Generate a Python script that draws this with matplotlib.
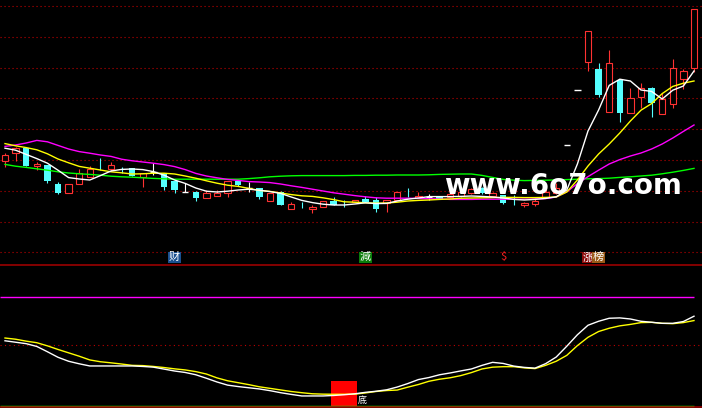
import matplotlib.pyplot as plt
import numpy as np
from matplotlib.lines import Line2D

# 日K线数据（价格从图上估读）
opens = [5.47, 5.84, 6.09, 5.20, 5.25, 4.29, 3.84, 4.29, 4.67, 5.35,
         5.05, 5.05, 5.09, 4.67, 4.92, 4.84, 4.47, 3.92, 3.92, 3.59,
         3.70, 3.84, 4.47, 4.10, 4.09, 3.47, 3.92, 3.04, 3.22, 3.04,
         3.14, 3.47, 3.37, 3.39, 3.55, 3.50, 3.34, 3.50, 3.87, 3.59,
         3.67, 3.67, 3.65, 3.70, 3.85, 4.10, 3.70, 3.75, 3.39, 3.25,
         3.29, 3.67, 3.84, 6.25, 9.00, 10.42, 10.05, 7.92, 9.50, 7.84,
         8.67, 9.09, 7.79, 8.29, 9.54, 10.09]
closes = [5.75, 6.09, 5.22, 5.30, 4.47, 3.87, 4.29, 4.84, 5.05, 5.33,
          5.25, 5.04, 4.72, 4.84, 4.92, 4.17, 4.00, 3.92, 3.59, 3.84,
          3.84, 4.45, 4.25, 4.10, 3.64, 3.84, 3.25, 3.30, 3.20, 3.14,
          3.45, 3.25, 3.35, 3.50, 3.39, 3.05, 3.50, 3.89, 3.85, 3.70,
          3.67, 3.55, 3.80, 3.90, 4.05, 3.85, 3.85, 3.37, 3.38, 3.37,
          3.47, 3.92, 4.09, 6.25, 9.00, 11.95, 8.75, 10.34, 7.84, 8.59,
          9.09, 8.37, 8.54, 10.12, 9.95, 13.04]
highs = [5.87, 6.17, 6.10, 5.42, 5.26, 4.39, 4.30, 5.04, 5.20, 5.59,
         5.39, 5.14, 5.10, 4.85, 5.34, 4.85, 4.48, 4.34, 3.93, 4.00,
         4.00, 4.46, 4.50, 4.42, 4.10, 3.85, 3.93, 3.42, 3.42, 3.25,
         3.46, 3.67, 3.50, 3.51, 3.70, 3.67, 3.51, 3.90, 4.09, 3.89,
         3.80, 3.68, 3.82, 3.95, 4.10, 4.15, 3.90, 3.76, 3.75, 3.38,
         3.62, 4.20, 4.35, 6.25, 9.00, 11.95, 10.37, 11.00, 9.57, 9.09,
         9.34, 9.17, 8.84, 10.54, 10.05, 13.04]
lows = [5.17, 5.47, 5.20, 5.00, 4.34, 3.80, 3.83, 4.28, 4.66, 5.00,
        4.95, 4.84, 4.71, 4.14, 4.75, 4.00, 3.87, 3.92, 3.45, 3.58,
        3.69, 3.67, 4.22, 3.92, 3.54, 3.46, 3.24, 3.03, 3.09, 2.84,
        3.13, 3.24, 3.15, 3.38, 3.38, 2.92, 2.92, 3.49, 3.64, 3.58,
        3.50, 3.54, 3.62, 3.65, 3.82, 3.80, 3.65, 3.29, 3.25, 3.13,
        3.20, 3.60, 3.80, 6.25, 9.00, 9.97, 8.67, 7.91, 7.42, 7.83,
        8.09, 7.67, 7.78, 8.09, 9.04, 9.92]

# 均线
ma5 = [6.09, 5.99, 5.78, 5.57, 5.34, 4.99, 4.62, 4.55, 4.50, 4.72,
       4.95, 5.03, 5.05, 5.02, 4.92, 4.74, 4.50, 4.33, 4.10, 3.94,
       3.90, 3.94, 4.00, 4.04, 3.99, 3.92, 3.83, 3.65, 3.48, 3.37,
       3.29, 3.25, 3.25, 3.30, 3.36, 3.32, 3.33, 3.45, 3.54, 3.60,
       3.67, 3.67, 3.67, 3.68, 3.70, 3.68, 3.65, 3.60, 3.53, 3.50,
       3.53, 3.58, 3.66, 4.00, 5.30, 6.95, 8.00, 9.23, 9.54, 9.45,
       9.00, 8.93, 8.55, 8.99, 9.20, 9.95]
ma10 = [6.32, 6.21, 6.12, 6.01, 5.81, 5.55, 5.36, 5.18, 5.09, 5.00,
        4.91, 4.86, 4.80, 4.81, 4.84, 4.84, 4.80, 4.70, 4.59, 4.46,
        4.34, 4.24, 4.18, 4.08, 3.98, 3.93, 3.85, 3.77, 3.71, 3.68,
        3.61, 3.52, 3.41, 3.39, 3.36, 3.34, 3.35, 3.39, 3.45, 3.48,
        3.50, 3.53, 3.55, 3.59, 3.60, 3.61, 3.62, 3.63, 3.63, 3.62,
        3.62, 3.63, 3.65, 3.90, 4.50, 5.20, 5.80, 6.30, 6.85, 7.45,
        7.99, 8.32, 8.82, 9.18, 9.34, 9.45]
ma20 = [6.18, 6.25, 6.35, 6.48, 6.41, 6.23, 6.05, 5.92, 5.84, 5.75,
        5.68, 5.54, 5.46, 5.40, 5.34, 5.27, 5.17, 5.02, 4.83, 4.70,
        4.61, 4.53, 4.48, 4.42, 4.40, 4.37, 4.30, 4.21, 4.13, 4.04,
        3.95, 3.86, 3.79, 3.72, 3.66, 3.61, 3.59, 3.59, 3.59, 3.58,
        3.56, 3.55, 3.53, 3.53, 3.53, 3.54, 3.54, 3.54, 3.54, 3.54,
        3.55, 3.57, 3.65, 3.91, 4.32, 4.67, 4.99, 5.30, 5.52, 5.70,
        5.85, 6.05, 6.30, 6.60, 6.93, 7.25]
ma60 = [5.28, 5.19, 5.13, 5.06, 4.99, 4.91, 4.85, 4.81, 4.78, 4.74,
        4.69, 4.66, 4.64, 4.61, 4.58, 4.56, 4.54, 4.54, 4.54, 4.54,
        4.54, 4.54, 4.54, 4.57, 4.61, 4.66, 4.69, 4.71, 4.72, 4.72,
        4.72, 4.72, 4.72, 4.73, 4.73, 4.74, 4.74, 4.75, 4.75, 4.75,
        4.76, 4.78, 4.79, 4.80, 4.80, 4.73, 4.63, 4.53, 4.49, 4.47,
        4.48, 4.49, 4.50, 4.52, 4.54, 4.56, 4.57, 4.59, 4.63, 4.66,
        4.70, 4.74, 4.81, 4.89, 4.98, 5.08]

# 副图指标
ind_fast = [53.9, 52.7, 51.5, 49.2, 44.8, 40.2, 36.9, 34.8, 33.0, 33.0,
            33.0, 33.0, 33.0, 32.6, 32.0, 30.4, 28.8, 27.6, 25.7, 22.8,
            19.7, 17.1, 15.9, 14.9, 13.9, 12.5, 10.8, 9.4, 8.1, 8.1,
            8.1, 8.5, 9.1, 9.9, 11.1, 12.0, 13.2, 15.5, 18.4, 21.7,
            23.4, 25.7, 27.2, 28.9, 30.5, 33.5, 36.0, 35.1, 32.9, 31.8,
            31.2, 34.9, 40.4, 49.4, 58.9, 66.8, 70.1, 72.6, 72.9, 72.0,
            70.1, 69.3, 68.4, 68.4, 69.9, 74.3]
ind_slow = [56.2, 55.2, 53.6, 52.3, 49.7, 46.7, 43.9, 41.1, 38.0, 36.5,
            35.6, 34.6, 33.5, 33.3, 32.6, 31.7, 30.6, 29.7, 28.3, 26.3,
            23.1, 20.7, 19.1, 17.5, 15.7, 14.4, 13.1, 11.8, 10.8, 9.9,
            9.6, 9.5, 9.5, 9.6, 10.6, 11.8, 12.6, 13.0, 15.4, 17.6,
            20.3, 22.0, 23.2, 25.0, 27.5, 30.5, 32.0, 32.4, 32.4, 31.4,
            30.8, 33.5, 36.9, 41.8, 49.9, 56.8, 61.6, 64.3, 66.3, 67.5,
            69.0, 69.2, 68.4, 68.1, 69.0, 70.7]

# 信号标记: (K线序号, 文字)
signals = [(16, '财'), (34, '減'), (47, '$'), (55, '涨'), (56, '榜')]
bottom_signal = 32
bottom_signal_height = 20.5

RED = '#ff3232'
CYAN = '#54ffff'
GRID = '#c00000'

o = np.array(opens)
c = np.array(closes)
h = np.array(highs)
l = np.array(lows)
idx = np.arange(len(o))

fig = plt.figure(figsize=(7.02, 4.08), dpi=100, facecolor='black')
split = (408 - 265.5) / 408
ax = fig.add_axes([0, split, 1, 1 - split])
ax2 = fig.add_axes([0, 0, 1, split])

# 主图
up = c > o
down = c < o
flat = c == o
wick_colors = np.where(up, RED, np.where(down, CYAN, 'white'))
ax.vlines(idx, l, h, colors=wick_colors, lw=0.8, zorder=2)
ax.bar(idx[up], (c - o)[up], bottom=o[up], width=0.6,
       facecolor='black', edgecolor=RED, lw=0.8, zorder=3)
ax.bar(idx[down], (o - c)[down], bottom=c[down], width=0.6,
       color=CYAN, lw=0, zorder=3)
ax.hlines(o[flat], idx[flat] - 0.3, idx[flat] + 0.3, colors='white', lw=1, zorder=3)

ax.plot(idx, ma60, color='#00ff00', lw=1, zorder=4)
ax.plot(idx, ma20, color='#ff00ff', lw=1, zorder=4)
ax.plot(idx, ma10, color='#ffff00', lw=1, zorder=4)
ax.plot(idx, ma5, color='white', lw=1, zorder=4)

for yv in np.linspace(13.2, 0.885, 9):
    ax.axhline(yv, color=GRID, lw=0.8, ls=(0, (1, 2.6)), zorder=1)

sig_style = {
    '财': dict(color='white', bg='#1a4f8f'),
    '減': dict(color='white', bg='#0b7d0b'),
    '$': dict(color='#ff2020', bg=None),
    '涨': dict(color='white', bg='#8c0a0a'),
    '榜': dict(color='white', bg='#9a5a18'),
}
for k, s in signals:
    st = sig_style[s]
    bbox = dict(facecolor=st['bg'], edgecolor='none', pad=0.6) if st['bg'] else None
    ax.text(k, 0.63, s, color=st['color'], fontsize=8, ha='center', va='center',
            family=['Noto Sans CJK SC', 'DejaVu Sans'], bbox=bbox, zorder=5)

ax.set_xlim(-0.472, 65.755)
ax.set_ylim(0.225, 13.5)
ax.axis('off')

# 副图
ax2.bar(bottom_signal, bottom_signal_height, width=2.5, color='#ff0000', zorder=2)
ax2.hlines(90, -0.472, 65, color='#ff00ff', lw=1, zorder=3)
ax2.hlines(0, -0.472, 65, color='#00ff00', lw=1, zorder=3)
ax2.axhline(50, color=GRID, lw=0.8, ls=(0, (1, 3)), zorder=1)
ax2.plot(idx, ind_slow, color='#ffff00', lw=1, zorder=4)
ax2.plot(idx, ind_fast, color='white', lw=1, zorder=4)
ax2.text(bottom_signal + 1.7, 0.4, '底', color='white', fontsize=6.5,
         ha='center', va='bottom', family=['Noto Sans CJK SC'], zorder=5)
ax2.set_xlim(-0.472, 65.755)
ax2.set_ylim(-1.9, 116.4)
ax2.axis('off')

# 分隔线
fig.add_artist(Line2D([0, 1], [1 - 265.4 / 408] * 2, transform=fig.transFigure,
                      color='#a80000', lw=1.1))
fig.add_artist(Line2D([0, 1], [1 - 407.3 / 408] * 2, transform=fig.transFigure,
                      color='#a80000', lw=1.1))

# 水印
fig.text(444 / 702, 1 - 194 / 408, 'www.6o7o.com', color='white', fontsize=20,
         fontweight='bold', family='DejaVu Sans', ha='left', va='baseline', zorder=10)

fig.savefig('out.png', dpi=100, facecolor='black')
